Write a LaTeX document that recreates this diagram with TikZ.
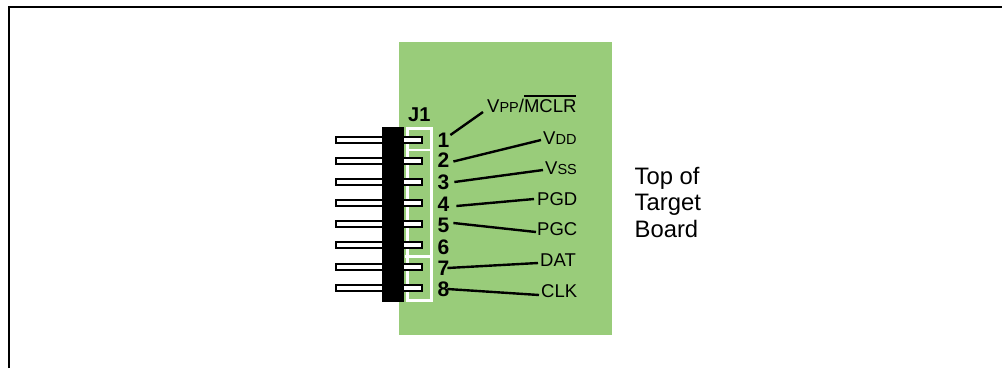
\documentclass[tikz,border=0pt]{standalone}
\usepackage{fontspec}
\setmainfont{Liberation Sans}
\definecolor{boardgreen}{HTML}{99CC7A}
\newcommand{\smc}[1]{{\fontsize{14.5}{14.5}\selectfont #1}}
\newcommand{\ovl}[1]{\setbox0=\hbox{#1}\rlap{\rule[16pt]{\wd0}{2pt}}\box0 }
\tikzset{
  x=1pt,y=-1pt,
  pin/.style={draw=black,fill=white,line width=2pt},
  bracket/.style={draw=white,line width=2.8pt},
  pinnum/.style={anchor=base west,inner sep=0pt,font=\fontsize{21}{21}\selectfont\bfseries},
  sig/.style={anchor=base west,inner sep=0pt,font=\fontsize{18.5}{18.5}\selectfont},
  side/.style={anchor=base west,inner sep=0pt,font=\fontsize{23.8}{23.8}\selectfont},
  conn/.style={draw=black,line width=2.4pt},
}
\begin{document}
\begin{tikzpicture}
\useasboundingbox (0,0) rectangle (1002,368);
\draw[black,line width=2pt] (9,368) -- (9,7) -- (1002,7);
\fill[boardgreen] (399,42) rectangle (612,335);
% white header outline
\draw[bracket] (407.5,128.5) rectangle (431.5,300.5);
\draw[bracket] (407.5,150) -- (431.5,150);
\draw[bracket] (405,256.7) -- (431.5,256.7);
% pins
\foreach \y in {140,161,182,203,224,245,267,288}
  \draw[pin] (336,\y-3) rectangle (422,\y+3);
\fill[black] (382,127) rectangle (404,302);
% labels
\node[pinnum,font=\fontsize{20}{20}\selectfont\bfseries] (j1) at (408,121.6) {J1};
\node[pinnum] (n1) at (437.5,147) {1};
\node[pinnum] (n2) at (437.5,167.7) {2};
\node[pinnum] (n3) at (437.5,189) {3};
\node[pinnum] (n4) at (437.5,211) {4};
\node[pinnum] (n5) at (437.5,232) {5};
\node[pinnum] (n6) at (437.5,254) {6};
\node[pinnum] (n7) at (437.5,275) {7};
\node[pinnum] (n8) at (437.5,296) {8};
\node[sig] (l1) at (487,112.7) {V\smc{PP}/\ovl{MCLR}};
\node[sig] (l2) at (543,144) {V\smc{DD}};
\node[sig] (l3) at (545,174) {V\smc{SS}};
\node[sig] (l4) at (537,205) {PGD};
\node[sig] (l5) at (537,235.6) {PGC};
\node[sig] (l7) at (540,266.7) {DAT};
\node[sig] (l8) at (541,297) {CLK};
\node[side] (t1) at (634.5,184) {Top of};
\node[side] (t2) at (634.5,210) {Target};
\node[side] (t3) at (634.5,237) {Board};
% connectors
\draw[conn] ([shift={(0.8,-12)}]n1.base east) -- ([shift={(-4,-0.7)}]l1.base west);
\draw[conn] ([shift={(3.8,-6.2)}]n2.base east) -- ([shift={(-2,-4)}]l2.base west);
\draw[conn] ([shift={(4.8,-7)}]n3.base east) -- ([shift={(-2,-4)}]l3.base west);
\draw[conn] ([shift={(6.8,-5)}]n4.base east) -- ([shift={(-3,-6)}]l4.base west);
\draw[conn] ([shift={(3.8,-9)}]n5.base east) -- ([shift={(-1,-3.6)}]l5.base west);
\draw[conn] ([shift={(-2.2,-7)}]n7.base east) -- ([shift={(-2,-3.7)}]l7.base west);
\draw[conn] ([shift={(-2.2,-7)}]n8.base east) -- ([shift={(-2,-2)}]l8.base west);
\end{tikzpicture}
\end{document}
